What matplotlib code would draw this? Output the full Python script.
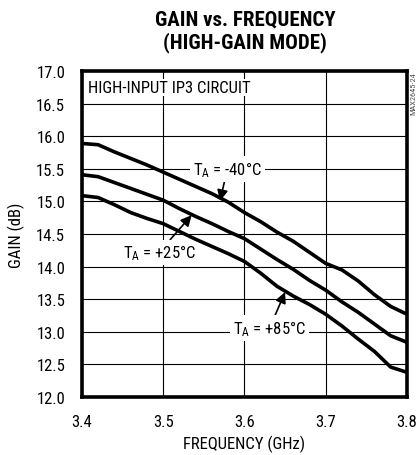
import matplotlib; matplotlib.use("Agg")
import matplotlib.pyplot as plt

plt.rcParams["font.family"] = ["Roboto Condensed", "DejaVu Sans"]
plt.rcParams["mathtext.default"] = "regular"

# ------------------------------------------------------------------ data
freq = [3.40, 3.42, 3.44, 3.46, 3.48, 3.50, 3.52, 3.54, 3.56, 3.58, 3.60,
        3.62, 3.64, 3.66, 3.68, 3.70, 3.72, 3.74, 3.76, 3.78, 3.80]
gain_m40 = [15.89, 15.87, 15.76, 15.66, 15.56, 15.45, 15.34, 15.23, 15.12, 14.99, 14.83,
            14.69, 14.53, 14.39, 14.22, 14.05, 13.95, 13.78, 13.57, 13.39, 13.27]
gain_p25 = [15.41, 15.38, 15.29, 15.20, 15.11, 15.02, 14.89, 14.77, 14.66, 14.54, 14.43,
            14.27, 14.11, 13.96, 13.79, 13.64, 13.46, 13.30, 13.12, 12.94, 12.84]
gain_p85 = [15.09, 15.06, 14.95, 14.83, 14.74, 14.66, 14.54, 14.42, 14.31, 14.20, 14.08,
            13.90, 13.70, 13.55, 13.42, 13.27, 13.09, 12.89, 12.70, 12.46, 12.38]

xticks = [3.4, 3.5, 3.6, 3.7, 3.8]
yticks = [12.0, 12.5, 13.0, 13.5, 14.0, 14.5, 15.0, 15.5, 16.0, 16.5, 17.0]

# ------------------------------------------------------------------ plot
fig = plt.figure(figsize=(4.2, 4.56), dpi=100)
ax = fig.add_axes([0.195, 0.127, 0.774, 0.715])

for g in (gain_m40, gain_p25, gain_p85):
    ax.plot(freq, g, color="k", lw=2.6, solid_capstyle="round", solid_joinstyle="round", zorder=3)

ax.set_xlim(3.4, 3.8); ax.set_ylim(12.0, 17.0)
ax.set_xticks(xticks); ax.set_yticks(yticks)
ax.set_xticklabels([f"{v:.1f}" for v in xticks])
ax.set_yticklabels([f"{v:.1f}" for v in yticks])
ax.tick_params(length=0, labelsize=12, pad=12)
ax.grid(color="k", lw=0.8)
for s in ax.spines.values():
    s.set_linewidth(2.6)

ax.set_xlabel("FREQUENCY (GHz)", fontsize=12, labelpad=4)
ax.set_ylabel("GAIN (dB)", fontsize=12, labelpad=8)

fig.text(0.583, 0.93, "GAIN vs. FREQUENCY\n(HIGH-GAIN MODE)", ha="center", va="center",
         fontsize=15, fontweight="bold", linespacing=1.2)
fig.text(0.985, 0.842, "MAX2645-24", rotation=90, ha="center", va="top",
         fontsize=6, color="#555555")

ax.text(3.408, 16.75, "HIGH-INPUT IP3 CIRCUIT", ha="left", va="center", fontsize=12,
        bbox=dict(fc="white", ec="none", pad=1), zorder=2.5)

arrow = dict(arrowstyle="-|>", color="k", lw=1.2, mutation_scale=16, shrinkA=0, shrinkB=0)
ax.annotate("T$_A$ = -40°C", xy=(3.570, 15.01), xytext=(3.579, 15.5), ha="center", va="center",
            fontsize=12, arrowprops=arrow, bbox=dict(fc="white", ec="none", pad=2), zorder=2.5)
ax.annotate("T$_A$ = +25°C", xy=(3.535, 14.79), xytext=(3.495, 14.22), ha="center", va="center",
            fontsize=12, arrowprops=arrow, bbox=dict(fc="white", ec="none", pad=2), zorder=2.5)
ax.annotate("T$_A$ = +85°C", xy=(3.650, 13.61), xytext=(3.631, 13.06), ha="center", va="center",
            fontsize=12, arrowprops=arrow, bbox=dict(fc="white", ec="none", pad=2), zorder=2.5)

fig.savefig("out.png", dpi=100)
